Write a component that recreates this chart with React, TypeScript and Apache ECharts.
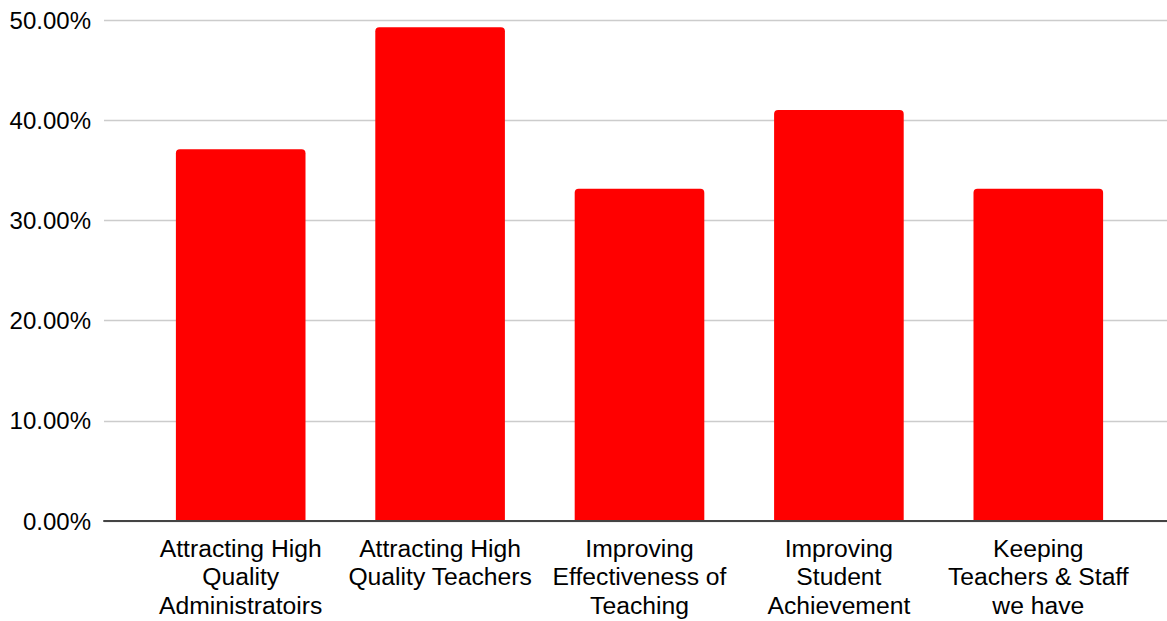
import React, { useEffect, useRef } from "react";
import * as echarts from "echarts";

const categories = [
  "Attracting High\nQuality\nAdministratoirs",
  "Attracting High\nQuality Teachers",
  "Improving\nEffectiveness of\nTeaching",
  "Improving\nStudent\nAchievement",
  "Keeping\nTeachers & Staff\nwe have",
];
const values = [0.371, 0.4927, 0.3317, 0.4102, 0.3317];
const yMin = 0;
const yMax = 0.5;
const yInterval = 0.1;

const FONT = "'Liberation Sans', Arial, sans-serif";

export default function App() {
  const ref = useRef<HTMLDivElement>(null);
  useEffect(() => {
    if (!ref.current) return;
    const chart = echarts.init(ref.current, undefined, { renderer: "svg" });
    chart.setOption({
      animation: false,
      backgroundColor: "#ffffff",
      textStyle: { fontFamily: FONT },
      grid: [
        { left: 104, right: 0, top: 20, bottom: 100, containLabel: false },
        { left: 141, right: 29, top: 20, bottom: 100, containLabel: false },
      ],
      xAxis: [
        {
          type: "category",
          gridIndex: 0,
          data: [""],
          axisLine: { show: true, lineStyle: { color: "#444444", width: 2 } },
          axisTick: { show: false },
          axisLabel: { show: false },
          splitLine: { show: false },
          z: 5,
        },
        {
          type: "category",
          gridIndex: 1,
          data: categories,
          axisLine: { show: false },
          axisTick: { show: false },
          axisLabel: {
            show: true,
            interval: 0,
            margin: 13,
            color: "#000000",
            fontSize: 24.7,
            lineHeight: 28.5,
            fontFamily: FONT,
            align: "center",
          },
        },
      ],
      yAxis: [
        {
          type: "value",
          gridIndex: 0,
          min: yMin,
          max: yMax,
          interval: yInterval,
          axisLine: { show: false },
          axisTick: { show: false },
          axisLabel: {
            margin: 13,
            color: "#000000",
            fontSize: 24,
            fontFamily: FONT,
            formatter: (v: number) => (v * 100).toFixed(2) + "%",
          },
          splitLine: { show: true, lineStyle: { color: "#cccccc", width: 1.3 } },
        },
        {
          type: "value",
          gridIndex: 1,
          min: yMin,
          max: yMax,
          interval: yInterval,
          show: false,
          splitLine: { show: false },
        },
      ],
      series: [
        {
          type: "bar",
          xAxisIndex: 1,
          yAxisIndex: 1,
          data: values,
          barWidth: "65%",
          itemStyle: { color: "#ff0000", borderRadius: [4, 4, 0, 0] },
          z: 2,
        },
      ],
    });
    return () => chart.dispose();
  }, []);
  return (
    <div
      ref={ref}
      style={{ position: "fixed", left: 0, top: 0, width: 1167, height: 621, background: "#fff" }}
    />
  );
}
